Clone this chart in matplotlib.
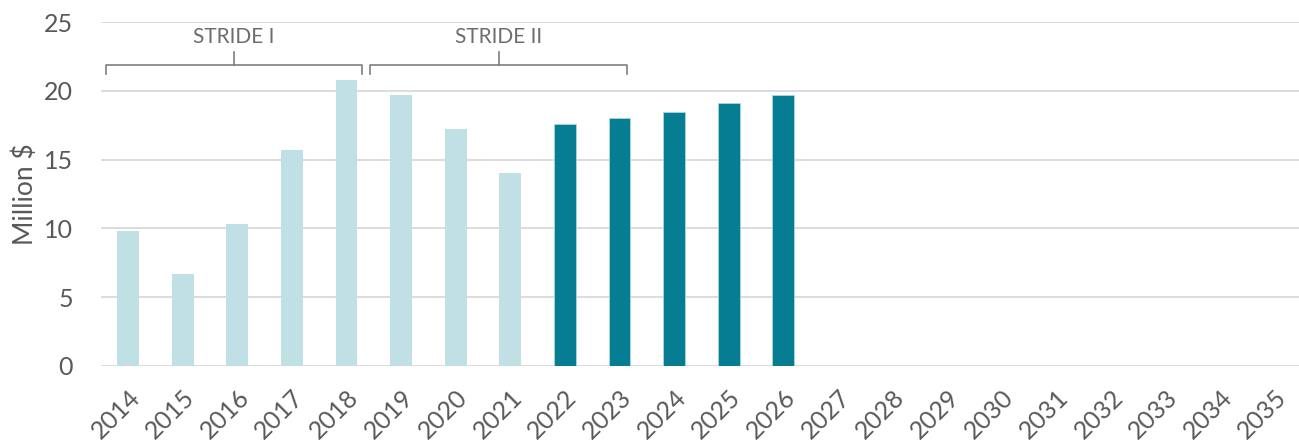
import matplotlib
matplotlib.use("Agg")
import matplotlib.pyplot as plt

years = [str(y) for y in range(2014, 2036)]
actual_years = ["2014", "2015", "2016", "2017", "2018", "2019", "2020", "2021"]
actual_vals = [9.8, 6.7, 10.3, 15.7, 20.8, 19.7, 17.2, 14.0]
proj_years = ["2022", "2023", "2024", "2025", "2026"]
proj_vals = [17.6, 18.0, 18.5, 19.1, 19.7]
brackets = [("STRIDE I", -0.4, 4.28), ("STRIDE II", 4.43, 9.14)]

plt.rcParams['font.family'] = ['Lato', 'DejaVu Sans']
fig = plt.figure(figsize=(12.99, 4.42), dpi=100)
ax = fig.add_axes([0.0775, 0.172, 0.925, 0.778])

idx = {y: i for i, y in enumerate(years)}
ax.bar([idx[y] for y in actual_years], actual_vals, width=0.4, color="#c0e0e5", zorder=3)
ax.bar([idx[y] for y in proj_years], proj_vals, width=0.4, color="#077d93",
       edgecolor="#a9d8df", linewidth=0.6, zorder=3)

ax.set_xlim(-0.5, len(years) - 0.5)
ax.set_ylim(0, 25)
ax.set_yticks([0, 5, 10, 15, 20, 25])
ax.set_xticks(range(len(years)))
ax.set_xticklabels(years, rotation=45, ha="right", rotation_mode="anchor")
ax.grid(axis="y", color="#d9d9d9", linewidth=1.3, zorder=0)
for s in ax.spines.values():
    s.set_visible(False)
ax.tick_params(axis="both", length=0, labelsize=18, colors="#595959")
ax.tick_params(axis="y", pad=20)
ax.tick_params(axis="x", pad=14)
ax.set_ylabel("Million $", fontsize=19, color="#595959", labelpad=4)

bc = "#7f7f7f"
for name, x0, x1 in brackets:
    ax.plot([x0, x0, x1, x1], [21.2, 21.9, 21.9, 21.2], color=bc, lw=1.2, clip_on=False, zorder=4)
    xm = (x0 + x1) / 2
    ax.plot([xm, xm], [21.9, 22.8], color=bc, lw=1.2, clip_on=False, zorder=4)
    ax.text(xm, 23.9, name, ha="center", va="center", fontsize=15, color="#6d6d6d")

fig.savefig("out.png", dpi=100)
